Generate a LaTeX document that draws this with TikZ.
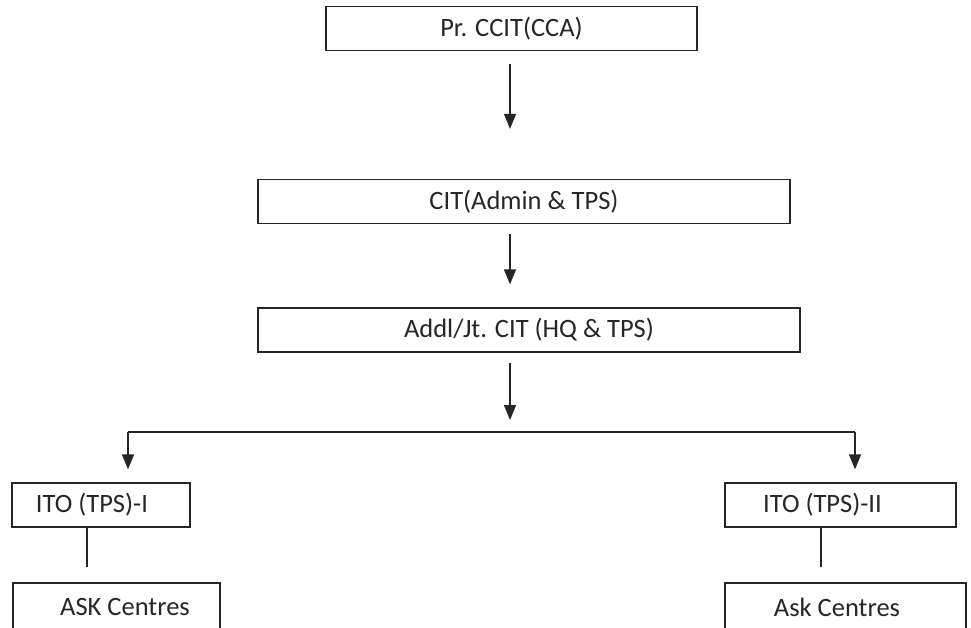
\documentclass[tikz,border=0pt]{standalone}
\usepackage{fontspec}
\setmainfont{Carlito}
\usetikzlibrary{arrows.meta}
\begin{document}
\begin{tikzpicture}[x=1pt,y=-1pt,
  box/.style={draw=black!85,line width=1.3pt,minimum height=44pt,inner sep=0pt,
    font=\fontsize{26.5}{30}\selectfont,text=black!85},
  arr/.style={line width=1.4pt,draw=black!85,-{Triangle[width=12pt,length=15pt]}},
  ln/.style={line width=1.4pt,draw=black!85}]
\clip (0,0) rectangle (971,628);
\useasboundingbox (0,0) rectangle (971,628);
\fill[white] (0,0) rectangle (971,628);
\node[box,minimum width=371pt] (top) at (511.5,28.5) {Pr. CCIT(CCA)};
\node[box,minimum width=532pt] (cit) at (524,201.5) {CIT(Admin \& TPS)};
\node[box,minimum width=542pt] (addl) at (529,330) {Addl/Jt. CIT (HQ \& TPS)};
\node[box,minimum width=178pt] (ito1) at (101,505) {\hspace*{-18pt}ITO (TPS)-I};
\node[box,minimum width=231pt] (ito2) at (840.5,505) {\hspace*{-36pt}ITO (TPS)-II};
\node[box,minimum width=207pt,minimum height=48pt] (ask1) at (116.5,607) {\hspace*{17pt}ASK Centres};
\node[box,minimum width=241pt,minimum height=48pt] (ask2) at (845.5,607) {\hspace*{-17pt}Ask Centres};
\coordinate (split) at (510,432);
\coordinate (hl) at (128,432);
\coordinate (hr) at (855,432);
\draw[arr,shorten <=13pt,shorten >=50pt] (top.south -| split) -- (cit.north -| split);
\draw[arr,shorten <=10pt,shorten >=23pt] (cit.south -| split) -- (addl.north -| split);
\draw[arr,shorten <=10pt,shorten >=12pt] (addl.south -| split) -- (split);
\draw[ln] (hl) -- (hr);
\draw[arr,shorten >=13pt] (hl) -- (hl |- ito1.north);
\draw[arr,shorten >=13pt] (hr) -- (hr |- ito2.north);
\draw[ln,shorten >=15pt] ([xshift=-14pt]ito1.south) -- ([xshift=-14pt]ito1.south |- ask1.north);
\draw[ln,shorten >=15pt] ([xshift=-19.5pt]ito2.south) -- ([xshift=-19.5pt]ito2.south |- ask2.north);
\end{tikzpicture}
\end{document}
